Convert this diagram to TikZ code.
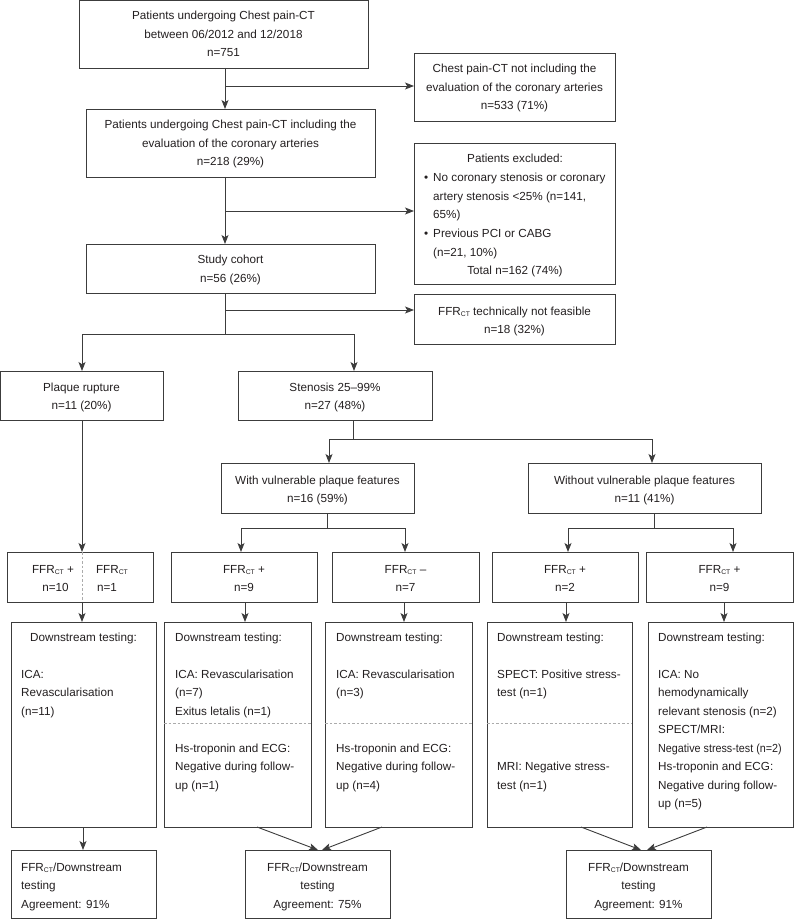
\documentclass[tikz,border=0pt]{standalone}
\usepackage{fontspec}
\setmainfont{Liberation Sans}
\usetikzlibrary{arrows.meta,fit}
\definecolor{lncol}{HTML}{3C3C3C}
\definecolor{txcol}{HTML}{231F20}
\definecolor{dshcol}{HTML}{ABABAB}
\newcommand\myfs{\fontsize{11.7}{18.5}\selectfont}
\newcommand\ffr{FFR\raisebox{-1.6pt}{\fontsize{6.8}{7}\selectfont CT}}
\newcommand\mycbox[2]{\parbox[t]{#1}{\centering #2}}
\newcommand\mylbox[2]{\parbox[t]{#1}{\raggedright #2}}
\begin{document}
\begin{tikzpicture}[x=1pt,y=-1pt,
  box/.style={draw=lncol, line width=0.9pt, inner sep=0pt, outer sep=0pt, rectangle},
  arr/.style={draw=lncol, line width=0.9pt, -{Stealth[length=9pt,width=7pt,inset=2.2pt]}},
  plain/.style={draw=lncol, line width=0.9pt},
  ctext/.style={anchor=base, inner sep=0pt, font=\myfs, text=txcol},
  ltext/.style={anchor=base west, inner sep=0pt, font=\myfs, text=txcol},
  dl/.style={draw=dshcol, line width=0.8pt, dash pattern=on 2.5pt off 2pt}]
\useasboundingbox (0,0) rectangle (794,920);

% ---------- boxes ----------
\node[box, fit={(79,0.5) (368,68)}] (top) {};
\node[box, fit={(414,53) (615,121)}] (r1) {};
\node[box, fit={(86,109) (375,177)}] (box2) {};
\node[box, fit={(414,143) (615,284)}] (excl) {};
\node[box, fit={(86,244) (375,293)}] (study) {};
\node[box, fit={(414,294) (615,344)}] (ffrno) {};
\node[box, fit={(0.5,371) (163,420)}] (plaque) {};
\node[box, fit={(238,371) (432,420)}] (sten) {};
\node[box, fit={(221,463) (414,513)}] (with) {};
\node[box, fit={(528,463) (761,513)}] (without) {};
\node[box, fit={(7,552) (153,602)}] (ffrA) {};
\node[box, fit={(171,552) (317,602)}] (ffrB) {};
\node[box, fit={(332,552) (479,602)}] (ffrC) {};
\node[box, fit={(492,552) (638,602)}] (ffrD) {};
\node[box, fit={(646,552) (793,602)}] (ffrE) {};
\node[box, fit={(11,622) (156,827)}] (dsA) {};
\node[box, fit={(164,622) (311,827)}] (dsB) {};
\node[box, fit={(325,622) (472,827)}] (dsC) {};
\node[box, fit={(487,622) (632,827)}] (dsD) {};
\node[box, fit={(648,622) (793,827)}] (dsE) {};
\node[box, fit={(11,850) (156,918)}] (bot1) {};
\node[box, fit={(245,850) (390,918)}] (bot2) {};
\node[box, fit={(566,850) (711,918)}] (bot3) {};

% ---------- texts ----------
\node[ctext] (topT) at (223.5,20) {\mycbox{280pt}{Patients undergoing Chest pain-CT\\between 06/2012 and 12/2018\\n=751}};
\node[ctext] (r1T) at (514.5,73) {\mycbox{200pt}{Chest pain-CT not including the\\evaluation of the coronary arteries\\n=533 (71\%)}};
\node[ctext] (box2T) at (230.5,129) {\mycbox{285pt}{Patients undergoing Chest pain-CT including the\\evaluation of the coronary arteries\\n=218 (29\%)}};
\node[ctext] (exclT) at (515,163) {Patients excluded:};
\node[ltext] (exclB1) at (424,182) {•};
\node[ltext] (exclL1) at (433,182) {\mylbox{180pt}{No coronary stenosis or coronary\\artery stenosis <25\% (n=141,\\65\%)}};
\node[ltext] (exclB2) at (424,237.5) {•};
\node[ltext] (exclL2) at (433,237.5) {\mylbox{180pt}{Previous PCI or CABG\\(n=21, 10\%)}};
\node[ctext] (exclTot) at (515,274) {Total n=162 (74\%)};
\node[ctext] (studyT) at (230.5,263.5) {\mycbox{280pt}{Study cohort\\n=56 (26\%)}};
\node[ctext] (ffrnoT) at (514.5,315) {\mycbox{200pt}{\ffr{} technically not feasible\\n=18 (32\%)}};
\node[ctext] (plaqueT) at (81.5,391) {\mycbox{160pt}{Plaque rupture\\n=11 (20\%)}};
\node[ctext] (stenT) at (335,391) {\mycbox{190pt}{Stenosis 25--99\%\\n=27 (48\%)}};
\node[ctext] (withT) at (317.5,484) {\mycbox{190pt}{With vulnerable plaque features\\n=16 (59\%)}};
\node[ctext] (withoutT) at (644.5,484) {\mycbox{230pt}{Without vulnerable plaque features\\n=11 (41\%)}};

\node[ctext] (ffrAT1) at (53,573) {\ffr{} +};
\node[ctext] (ffrAT2) at (55.5,591) {n=10};
\node[ctext] (ffrAT3) at (112,573) {\ffr};
\node[ctext] (ffrAT4) at (107,591) {n=1};
\node[ctext] (ffrBT) at (244,573) {\mycbox{140pt}{\ffr{} +\\n=9}};
\node[ctext] (ffrCT) at (405.5,573) {\mycbox{140pt}{\ffr{} --\\n=7}};
\node[ctext] (ffrDT) at (565,573) {\mycbox{140pt}{\ffr{} +\\n=2}};
\node[ctext] (ffrET) at (719.5,573) {\mycbox{140pt}{\ffr{} +\\n=9}};

\node[ctext] (dsAT1) at (83.5,641) {Downstream testing:};
\node[ltext] (dsAT2) at (21,678) {\mylbox{130pt}{ICA:\\Revascularisation\\(n=11)}};
\node[ltext] (dsBT1) at (175,641) {\mylbox{135pt}{Downstream testing:\\\mbox{}\\ICA: Revascularisation\\(n=7)\\Exitus letalis (n=1)}};
\node[ltext] (dsBT2) at (175,752) {\mylbox{135pt}{Hs-troponin and ECG:\\Negative during follow-\\up (n=1)}};
\node[ltext] (dsCT1) at (336,641) {\mylbox{135pt}{Downstream testing:\\\mbox{}\\ICA: Revascularisation\\(n=3)}};
\node[ltext] (dsCT2) at (336,752) {\mylbox{135pt}{Hs-troponin and ECG:\\Negative during follow-\\up (n=4)}};
\node[ltext] (dsDT1) at (497,641) {\mylbox{135pt}{Downstream testing:\\\mbox{}\\SPECT: Positive stress-\\test (n=1)}};
\node[ltext] (dsDT2) at (497,770.5) {\mylbox{135pt}{MRI: Negative stress-\\test (n=1)}};
\node[ltext] (dsET) at (658,641) {\mylbox{135pt}{Downstream testing:\\\mbox{}\\ICA: No\\hemodynamically\\relevant stenosis (n=2)\\SPECT/MRI:\\\scalebox{0.92}[1]{Negative stress-test (n=2)}\\Hs-troponin and ECG:\\Negative during follow-\\up (n=5)}};

\node[ltext] (bot1T) at (21,871) {\mylbox{135pt}{\ffr/Downstream\\testing\\Agreement: 91\%}};
\node[ctext] (bot2T) at (317.5,871) {\mycbox{140pt}{\ffr/Downstream\\testing\\Agreement: 75\%}};
\node[ctext] (bot3T) at (638.5,871) {\mycbox{140pt}{\ffr/Downstream\\testing\\Agreement: 91\%}};

% dashed separators
\draw[dl] (dsB.west |- 0,723) -- (dsB.east |- 0,723);
\draw[dl] (dsC.west |- 0,723) -- (dsC.east |- 0,723);
\draw[dl] (dsD.west |- 0,723) -- (dsD.east |- 0,723);

% ---------- connectors ----------
\coordinate (j1) at (225,86);
\draw[arr] (top.south -| j1) -- (box2.north -| j1);
\draw[arr] (j1) -- (r1.west |- j1);
\coordinate (j2) at (225,211);
\draw[arr] (box2.south -| j2) -- (study.north -| j2);
\draw[arr] (j2) -- (excl.west |- j2);
\coordinate (j3) at (225,310);
\coordinate (j4) at (225,334);
\draw[plain] (study.south -| j3) -- (j4);
\draw[arr] (j3) -- (ffrno.west |- j3);
\coordinate (p1) at (82,0);
\coordinate (p2) at (354,0);
\draw[arr] (j4) -| (plaque.north -| p1);
\draw[arr] (j4) -| (sten.north -| p2);
% plaque chain
\draw[arr] (plaque.south -| p1) -- (ffrA.north -| p1);
\draw[dl] (ffrA.north -| p1) -- (ffrA.south -| p1);
\draw[arr] (ffrA.south -| p1) -- (dsA.north -| p1);
\coordinate (p3) at (83,0);
\draw[arr] (dsA.south -| p3) -- (bot1.north -| p3);
% stenosis chain
\coordinate (s1) at (353,439);
\coordinate (w1) at (329,0);
\coordinate (w2) at (652,0);
\draw[plain] (sten.south -| s1) -- (s1);
\draw[arr] (s1) -| (with.north -| w1);
\draw[arr] (s1) -| (without.north -| w2);
% with chain
\coordinate (v1) at (327,528);
\coordinate (b1) at (241,0);
\coordinate (c1) at (405,0);
\draw[plain] (with.south -| v1) -- (v1);
\draw[arr] (v1) -| (ffrB.north -| b1);
\draw[arr] (v1) -| (ffrC.north -| c1);
% without chain
\coordinate (u1) at (654,528);
\coordinate (d1) at (568,0);
\coordinate (e1) at (733,0);
\draw[plain] (without.south -| u1) -- (u1);
\draw[arr] (u1) -| (ffrD.north -| d1);
\draw[arr] (u1) -| (ffrE.north -| e1);
% FFR -> downstream
\coordinate (b2) at (245,0);
\coordinate (c2) at (404,0);
\coordinate (d2) at (566,0);
\coordinate (e2) at (724,0);
\draw[arr] (ffrB.south -| b2) -- (dsB.north -| b2);
\draw[arr] (ffrC.south -| c2) -- (dsC.north -| c2);
\draw[arr] (ffrD.south -| d2) -- (dsD.north -| d2);
\draw[arr] (ffrE.south -| e2) -- (dsE.north -| e2);
% downstream -> agreement
\draw[arr] ([xshift=19.5pt]dsB.south) -- ([xshift=0.5pt]bot2.north);
\draw[arr] ([xshift=-16.5pt]dsC.south) -- ([xshift=4.5pt]bot2.north);
\draw[arr] ([xshift=21.5pt]dsD.south) -- ([xshift=2.5pt]bot3.north);
\draw[arr] ([xshift=-13.5pt]dsE.south) -- ([xshift=8.5pt]bot3.north);
\end{tikzpicture}
\end{document}
